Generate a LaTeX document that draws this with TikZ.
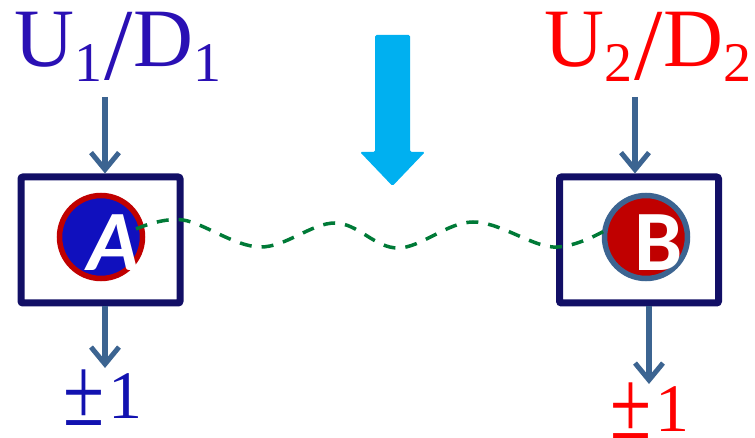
\documentclass[tikz,border=0pt]{standalone}
\usepackage{fontspec}
\setmainfont{Liberation Serif}
\newfontfamily\letterfont{Carlito}
\usetikzlibrary{arrows.meta}
\definecolor{navy}{HTML}{120F66}
\definecolor{steel}{HTML}{3C6491}
\definecolor{labblue}{HTML}{2A10B4}
\definecolor{pmblue}{HTML}{1212B0}
\definecolor{labred}{HTML}{FF0000}
\definecolor{darkred}{HTML}{C00000}
\definecolor{ballblue}{HTML}{1010BE}
\definecolor{cyanarrow}{HTML}{00B0F0}
\definecolor{wavegreen}{HTML}{007A37}
\tikzset{
  boxstyle/.style={draw=navy, line width=7pt, rounded corners=2pt, minimum width=159pt, minimum height=126pt, inner sep=0pt, outer sep=3.5pt},
  conn/.style={draw=steel, line width=5.5pt, -{Straight Barb[length=17pt, width=28pt, line width=5pt]}},
  wave/.style={draw=wavegreen, line width=3.5pt, dash pattern=on 12pt off 10pt},
  ball/.style={circle, minimum size=83pt, inner sep=0pt, line width=5.5pt},
  letter/.style={text=white, inner sep=0pt, font=\letterfont\bfseries\fontsize{86}{86}\selectfont},
  biglab/.style={inner sep=0pt, anchor=base west, font=\fontsize{83}{83}\selectfont},
  pmlab/.style={inner sep=0pt, anchor=base west, font=\fontsize{68}{68}\selectfont}
}
\newcommand{\subdig}[1]{\raisebox{-15pt}{\fontsize{56}{56}\selectfont #1}}
\newcommand{\bigslash}{\hspace{2pt}\raisebox{-13pt}{\fontsize{102}{102}\selectfont /}\hspace{1pt}}
\newcommand{\bigpm}{\raisebox{-7pt}{\scalebox{1.1}[1.45]{±}}\hspace{4pt}}
\begin{document}
\begin{tikzpicture}[x=1pt, y=-1pt]
\useasboundingbox (0,0) rectangle (755,438);
% labels
\node[biglab, text=labblue] (labA) at (14,67) {U\subdig{1}\bigslash D\subdig{1}};
\node[biglab, text=labred] (labB) at (544,67) {U\subdig{2}\bigslash D\subdig{2}};
% boxes
\node[boxstyle] (boxA) at (100.5,240) {};
\node[boxstyle] (boxB) at (639,240) {};
% big cyan arrow
\fill[cyanarrow, rounded corners=1.5pt] (375,35) -- (410,35) -- (410,152) -- (425,152) -- (392.5,186) -- (360,152) -- (375,152) -- cycle;
% balls
\node[ball, draw=darkred, fill=ballblue] (cA) at (101,237) {};
\node[ball, draw=steel, fill=darkred] (cB) at (646,237) {};
\node[letter, font=\letterfont\bfseries\itshape\fontsize{86}{86}\selectfont] (lA) at (114,243) {A};
\node[letter] (lB) at (659,243) {B};
% wave
\draw[wave] plot[smooth, tension=0.6] coordinates {(136,229) (183,220) (260,247) (335,223) (398,248) (473,222) (553,247) (606,230)};
% arrows
\coordinate (tA) at (105,97);
\coordinate (tB) at (635,97);
\coordinate (bA) at (105,368);
\coordinate (bB) at (649,384);
\draw[conn] (tA) -- (tA |- boxA.north);
\draw[conn] (tB) -- (tB |- boxB.north);
\draw[conn] (bA |- boxA.south) -- (bA);
\draw[conn] (bB |- boxB.south) -- (bB);
% bottom labels
\node[pmlab, text=pmblue] (pmA) at (63,418) {\bigpm 1};
\node[pmlab, text=labred] (pmB) at (610,431) {\bigpm 1};
\end{tikzpicture}
\end{document}
